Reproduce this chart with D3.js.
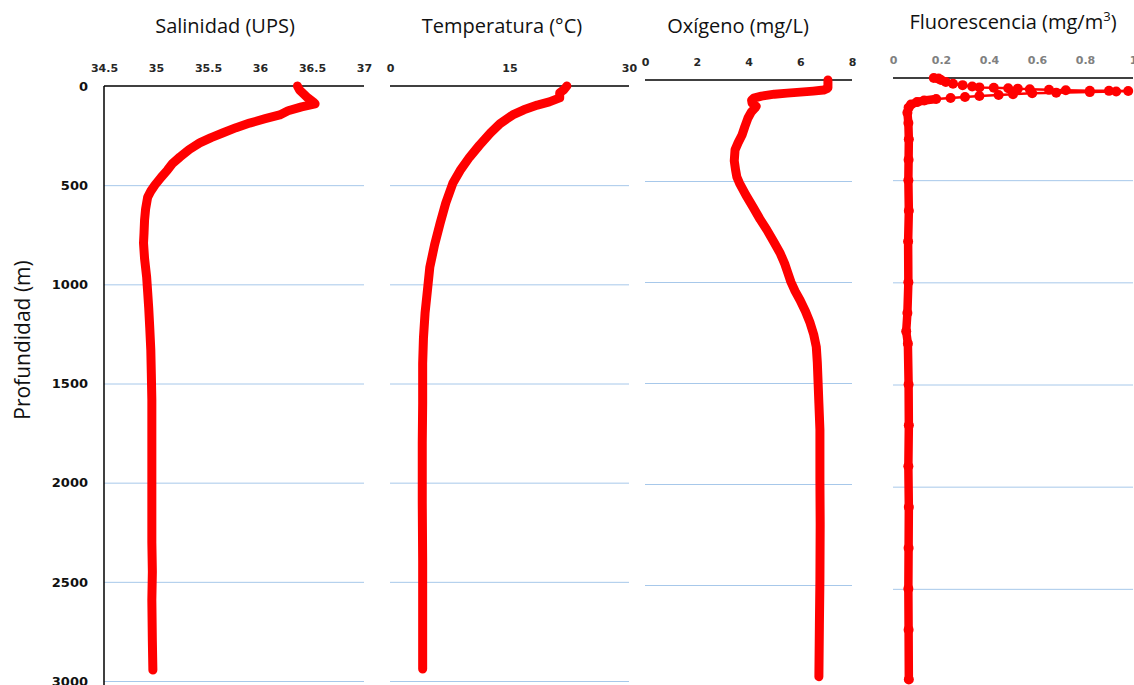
<!DOCTYPE html>
<html><head><meta charset="utf-8">
<script src="https://cdn.jsdelivr.net/npm/d3@7"></script>
<style>
html,body{margin:0;padding:0;background:#fff;}
svg{display:block;}
</style></head>
<body>
<svg id="chart" width="1134" height="685"></svg>
<script>
// ---------------- DATA ----------------
const depthTicks = [0, 500, 1000, 1500, 2000, 2500, 3000];

const salTicks = [34.5, 35, 35.5, 36, 36.5, 37];
const salDepth = [0, 20, 40, 60, 80, 90, 105, 125, 146, 165, 187, 210, 237, 260, 287, 320, 358, 390, 424, 460, 499, 530, 560, 620, 676, 740, 792, 870, 963, 1040, 1119, 1220, 1331, 1450, 1583, 1800, 2087, 2300, 2450, 2592, 2800, 2945];
const salValue = [36.36, 36.38, 36.42, 36.46, 36.51, 36.53, 36.40, 36.27, 36.19, 36.05, 35.90, 35.77, 35.64, 35.53, 35.42, 35.32, 35.23, 35.16, 35.11, 35.05, 34.99, 34.95, 34.92, 34.90, 34.89, 34.885, 34.88, 34.89, 34.91, 34.92, 34.93, 34.94, 34.95, 34.955, 34.96, 34.96, 34.96, 34.96, 34.965, 34.96, 34.965, 34.97];

const tempTicks = [0, 15, 30];
const tempDepth = [0, 20, 35, 60, 80, 96, 120, 146, 190, 237, 300, 358, 420, 489, 590, 691, 800, 913, 1030, 1145, 1270, 1397, 1600, 1800, 2100, 2400, 2700, 2940];
const tempValue = [22.2, 21.8, 21.3, 21.3, 20.0, 18.5, 16.8, 15.4, 13.8, 12.6, 11.2, 10.0, 8.9, 7.9, 7.0, 6.3, 5.6, 5.0, 4.7, 4.4, 4.2, 4.1, 4.1, 4.05, 4.05, 4.1, 4.1, 4.1];

const oxyTicks = [0, 2, 4, 6, 8];
const oxyDepth = [0, 20, 40, 50, 55, 60, 65, 70, 80, 90, 100, 115, 130, 139, 160, 188, 230, 272, 310, 346, 400, 445, 480, 510, 570, 628, 690, 742, 800, 856, 910, 955, 1000, 1045, 1089, 1145, 1202, 1260, 1321, 1400, 1499, 1600, 1732, 1850, 1979, 2200, 2474, 2700, 2954];
const oxyValue = [7.07, 7.07, 7.07, 6.9, 6.5, 6.0, 5.5, 5.0, 4.5, 4.2, 4.12, 4.14, 4.3, 4.25, 4.1, 3.98, 3.86, 3.75, 3.6, 3.48, 3.45, 3.5, 3.55, 3.65, 3.9, 4.17, 4.45, 4.71, 4.97, 5.22, 5.4, 5.52, 5.64, 5.8, 5.99, 6.2, 6.38, 6.52, 6.62, 6.66, 6.69, 6.72, 6.76, 6.76, 6.76, 6.77, 6.76, 6.74, 6.72];

const fluTicks = [0, 0.2, 0.4, 0.6, 0.8, 1];
const fluDepth = [0, 3, 10, 20, 28, 35, 42, 46, 48, 50, 52, 55, 58, 60, 62, 63, 64, 66, 69, 72, 75, 79, 83, 88, 93, 98, 103, 110, 118, 130, 145, 170, 220, 300, 400, 500, 650, 800, 1000, 1150, 1240, 1300, 1500, 1700, 1900, 2100, 2300, 2500, 2700, 2944];
const fluValue = [0.17, 0.19, 0.2, 0.22, 0.25, 0.29, 0.33, 0.36, 0.42, 0.48, 0.52, 0.57, 0.65, 0.72, 0.82, 0.9, 0.98, 0.93, 0.82, 0.68, 0.58, 0.5, 0.44, 0.36, 0.3, 0.24, 0.18, 0.13, 0.1, 0.075, 0.065, 0.06, 0.064, 0.066, 0.065, 0.064, 0.066, 0.063, 0.064, 0.06, 0.055, 0.062, 0.065, 0.066, 0.064, 0.066, 0.065, 0.064, 0.065, 0.066];

// ---------------- LAYOUT ----------------
const svg = d3.select("#chart");
const RED = "#ff0000";
const GRID = "#a7c8ea";

const panels = [
  {title: "Salinidad (UPS)", tx: 225, ty: 33, ticks: salTicks, depth: salDepth, value: salValue,
   x0: 104, x1: 364, y0: 86, y1: 681, labelY: 72, labelColor: "#262626", leftAxis: true, grid: [500,1000,1500,2000,2500,3000]},
  {title: "Temperatura (°C)", tx: 502, ty: 33, ticks: tempTicks, depth: tempDepth, value: tempValue,
   x0: 390, x1: 629, y0: 86, y1: 681, labelY: 72, labelColor: "#262626", grid: [500,1000,1500,2000,2500,3000]},
  {title: "Oxígeno (mg/L)", tx: 738, ty: 33, ticks: oxyTicks, depth: oxyDepth, value: oxyValue,
   x0: 645, x1: 852, y0: 80, y1: 686, labelY: 66, labelColor: "#262626", grid: [500,1000,1500,2000,2500]},
  {title: "Fluorescencia (mg/m", sup: "3", tx: 1013, ty: 29, ticks: fluTicks, depth: fluDepth, value: fluValue,
   x0: 893, x1: 1133, y0: 78, y1: 691, labelY: 64, labelColor: "#808080", dots: true, grid: [500,1000,1500,2000,2500]}
];

panels.forEach(p => {
  const x = d3.scaleLinear().domain([p.ticks[0], p.ticks[p.ticks.length-1]]).range([p.x0, p.x1]);
  const y = d3.scaleLinear().domain([0, 3000]).range([p.y0, p.y1]);
  const g = svg.append("g");

  // gridlines
  g.selectAll("line.grid").data(p.grid).enter().append("line")
    .attr("x1", p.x0).attr("x2", p.x1)
    .attr("y1", d => y(d) + 0.5).attr("y2", d => y(d) + 0.5)
    .attr("stroke", GRID).attr("stroke-width", 1);

  // top axis
  const ax = d3.axisTop(x).tickValues(p.ticks).tickSize(0).tickPadding(0)
    .tickFormat(d => String(+d.toFixed(2)));
  const axg = g.append("g").attr("transform", `translate(0,${p.labelY})`).call(ax);
  axg.select(".domain").remove();
  axg.selectAll("text")
    .attr("font-family", "'DejaVu Sans', Verdana, sans-serif")
    .attr("font-weight", "bold").attr("font-size", 11)
    .attr("fill", p.labelColor).attr("dy", 0);

  g.append("line").attr("x1", p.x0).attr("x2", p.x1)
    .attr("y1", p.y0).attr("y2", p.y0).attr("stroke", "#000").attr("stroke-width", 1.5);

  if (p.leftAxis) {
    g.append("line").attr("x1", p.x0).attr("x2", p.x0)
      .attr("y1", p.y0).attr("y2", 685).attr("stroke", "#000").attr("stroke-width", 1.5);
    const yax = d3.axisLeft(y).tickValues(depthTicks).tickSize(0).tickPadding(16)
      .tickFormat(d3.format("d"));
    const yg = g.append("g").attr("transform", `translate(${p.x0},0)`).call(yax);
    yg.select(".domain").remove();
    yg.selectAll("text")
      .attr("font-family", "'DejaVu Sans', Verdana, sans-serif")
      .attr("font-weight", "bold").attr("font-size", 13).attr("fill", "#111");
  }

  // title
  const t = svg.append("text").attr("x", p.tx).attr("y", p.ty)
    .attr("text-anchor", "middle")
    .attr("font-family", "'Open Sans', sans-serif").attr("font-size", 20)
    .attr("fill", "#111").text(p.title);
  if (p.sup) {
    t.append("tspan").attr("font-size", 13).attr("dy", -8).text(p.sup);
    t.append("tspan").attr("dy", 8).text(")");
  }

  const pts = p.depth.map((d, i) => [p.value[i], d]);
  const line = d3.line().x(d => x(d[0])).y(d => y(d[1])).curve(d3.curveLinear);

  if (p.dots) {
    const deep = pts.filter(d => d[1] >= 103);
    g.append("path").attr("d", line(pts)).attr("fill", "none")
      .attr("stroke", RED).attr("stroke-width", 2.5).attr("stroke-linejoin", "round");
    g.append("path").attr("d", line(deep)).attr("fill", "none")
      .attr("stroke", RED).attr("stroke-width", 8.5)
      .attr("stroke-linejoin", "round").attr("stroke-linecap", "round");
    g.selectAll("circle").data(pts).enter().append("circle")
      .attr("cx", d => x(d[0])).attr("cy", d => y(d[1])).attr("r", 5).attr("fill", RED);
  } else {
    g.append("path").attr("d", line(pts)).attr("fill", "none")
      .attr("stroke", RED).attr("stroke-width", 9)
      .attr("stroke-linejoin", "round").attr("stroke-linecap", "round");
  }
});

svg.append("text")
  .attr("transform", "translate(30,340) rotate(-90)")
  .attr("text-anchor", "middle")
  .attr("font-family", "'Open Sans', sans-serif").attr("font-size", 21)
  .attr("fill", "#111").text("Profundidad (m)");
</script>
</body></html>
